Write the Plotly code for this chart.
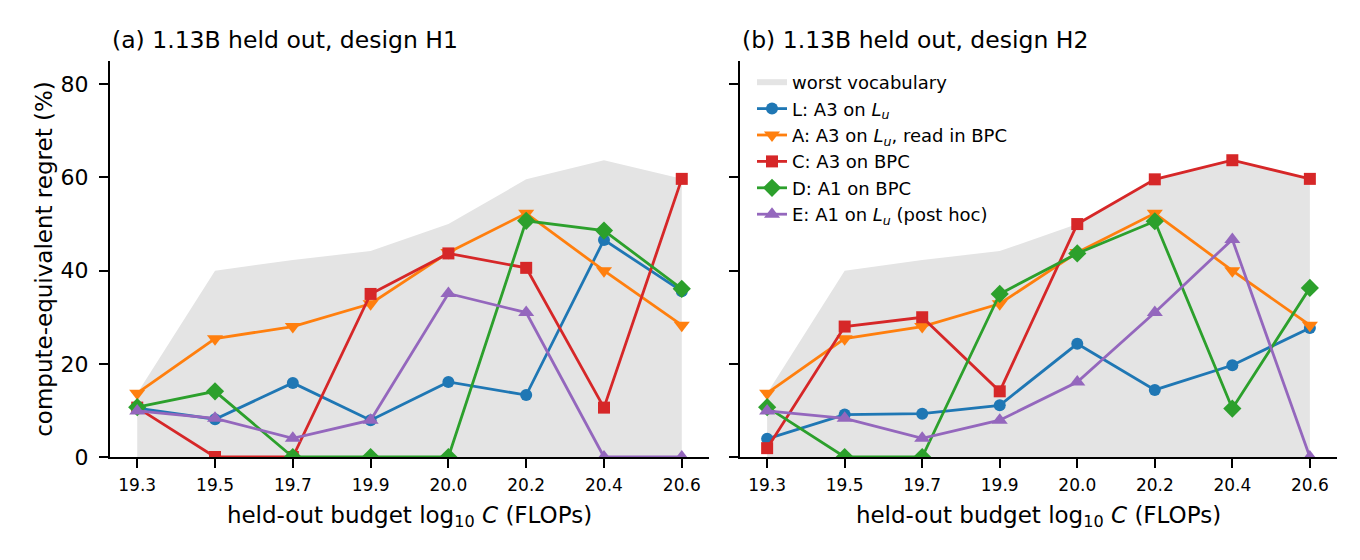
import plotly.graph_objects as go

budgets = ["19.3", "19.5", "19.7", "19.9", "20.0", "20.2", "20.4", "20.6"]

worst_vocab = [13.7, 40.0, 42.3, 44.2, 50.0, 59.6, 63.7, 59.7]

# panel (a): design H1
h1_L = [10.5, 8.1, 15.9, 7.9, 16.1, 13.3, 46.6, 35.6]
h1_A = [13.7, 25.4, 28.0, 32.9, 43.9, 52.3, 40.0, 28.3]
h1_C = [10.6, 0.0, 0.0, 35.0, 43.7, 40.6, 10.6, 59.7]
h1_D = [10.7, 14.1, 0.0, 0.0, 0.0, 50.7, 48.6, 36.1]
h1_E = [9.9, 8.3, 4.0, 7.9, 35.1, 31.0, 0.0, 0.0]

# panel (b): design H2
h2_L = [3.9, 9.1, 9.3, 11.1, 24.3, 14.4, 19.7, 27.7]
h2_A = [13.7, 25.4, 28.0, 32.9, 43.9, 52.3, 40.0, 28.3]
h2_C = [1.9, 28.0, 30.0, 14.1, 50.0, 59.6, 63.7, 59.7]
h2_D = [10.7, 0.0, 0.0, 35.0, 43.7, 50.6, 10.4, 36.3]
h2_E = [9.9, 8.3, 4.0, 7.9, 16.1, 31.0, 46.7, 0.0]

series_names = [
    "L: A3 on <i>L</i><sub><i>u</i></sub>",
    "A: A3 on <i>L</i><sub><i>u</i></sub>, read in BPC",
    "C: A3 on BPC",
    "D: A1 on BPC",
    "E: A1 on <i>L</i><sub><i>u</i></sub> (post hoc)",
]
colors = ["#1f77b4", "#ff7f0e", "#d62728", "#2ca02c", "#9467bd"]
symbols = ["circle", "triangle-down", "square", "diamond", "triangle-up"]
msizes = [12, 14, 12, 14, 14]

panels = [
    ("x", "y", [h1_L, h1_A, h1_C, h1_D, h1_E], False),
    ("x2", "y2", [h2_L, h2_A, h2_C, h2_D, h2_E], True),
]

xs = list(range(len(budgets)))

fig = go.Figure()
for xa, ya, data, show in panels:
    fig.add_trace(go.Scatter(
        x=xs, y=worst_vocab, xaxis=xa, yaxis=ya, mode="none",
        fill="tozeroy", fillcolor="#e4e4e4", name="worst vocabulary",
        showlegend=show, hoverinfo="skip"))
    for vals, nm, c, s, ms in zip(data, series_names, colors, symbols, msizes):
        fig.add_trace(go.Scatter(
            x=xs, y=vals, xaxis=xa, yaxis=ya, mode="lines+markers",
            name=nm, showlegend=show,
            line=dict(color=c, width=2.8),
            marker=dict(symbol=s, size=ms, color=c, line=dict(width=0))))

W, H = 1360, 560
ml, mr, mt, mb = 110, 23, 61, 103
pw = W - ml - mr
d1 = [0, (709 - ml) / pw]
d2 = [(740 - ml) / pw, 1]

axis_common = dict(
    showline=True, linecolor="black", linewidth=2, ticks="outside",
    ticklen=9, tickwidth=2, tickcolor="black", showgrid=False, zeroline=False,
    mirror=False,
)
xcommon = dict(axis_common, range=[-0.35, 7.35], tickmode="array",
               tickvals=xs, ticktext=budgets,
               tickfont=dict(family="DejaVu Sans", size=17, color="black"),
               ticklabelstandoff=3)
xtitle = dict(text="held-out budget log<sub>10</sub> <i>C</i> (FLOPs)",
              font=dict(family="DejaVu Sans", size=23, color="black"), standoff=12)
ycommon = dict(axis_common, range=[0, 85], tickvals=[0, 20, 40, 60, 80],
               tickfont=dict(family="DejaVu Sans", size=22, color="black"),
               ticklabelstandoff=6)

fig.update_layout(
    width=W, height=H,
    margin=dict(l=ml, r=mr, t=mt, b=mb),
    paper_bgcolor="white", plot_bgcolor="white",
    font=dict(family="DejaVu Sans", color="black"),
    xaxis=dict(xcommon, domain=d1, anchor="y", title=xtitle, automargin=False),
    xaxis2=dict(xcommon, domain=d2, anchor="y2", title=xtitle, automargin=False),
    yaxis=dict(ycommon, anchor="x", automargin=False,
               title=dict(text="compute-equivalent regret (%)",
                          font=dict(family="DejaVu Sans", size=23, color="black"),
                          standoff=2)),
    yaxis2=dict(ycommon, anchor="x2", showticklabels=False, automargin=False),
    legend=dict(x=(752 - ml) / pw, y=1 - (64 - mt) / (H - mt - mb),
                xref="paper", yref="paper", xanchor="left", yanchor="top",
                bgcolor="rgba(255,255,255,0)",
                font=dict(family="DejaVu Sans", size=18, color="black"),
                tracegroupgap=0),
    showlegend=True,
    annotations=[
        dict(text="(a) 1.13B held out, design H1", xref="paper", yref="paper",
             x=0, xanchor="left", y=1 + (mt - 40) / (H - mt - mb), yanchor="middle",
             showarrow=False, font=dict(family="DejaVu Sans", size=23.5, color="black")),
        dict(text="(b) 1.13B held out, design H2", xref="paper", yref="paper",
             x=d2[0], xanchor="left", y=1 + (mt - 40) / (H - mt - mb), yanchor="middle",
             showarrow=False, font=dict(family="DejaVu Sans", size=23.5, color="black")),
    ],
)

fig.write_html("out.html")
